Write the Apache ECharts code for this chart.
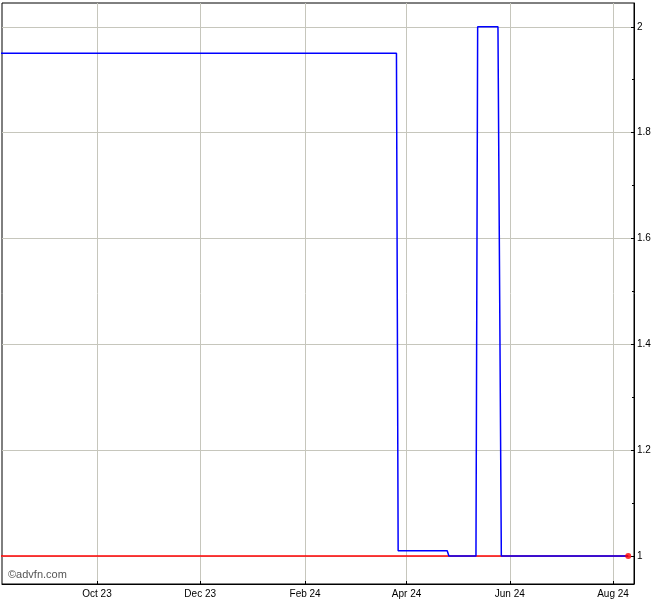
<!DOCTYPE html>
<html>
<head>
<meta charset="utf-8">
<script src="https://cdn.jsdelivr.net/npm/echarts@6/dist/echarts.min.js"></script>
<style>html,body{margin:0;padding:0;background:#fff}#c{width:670px;height:600px}</style>
</head>
<body>
<div id="c"></div>
<script>
// Price data (date, price)
const priceDates = ['2023-08-01','2024-03-26','2024-03-27','2024-04-25','2024-04-26','2024-05-12','2024-05-13','2024-05-25','2024-05-27','2024-08-10'];
const priceValues = [1.95, 1.95, 1.01, 1.01, 1.00, 1.00, 2.00, 2.00, 1.00, 1.00];
// X axis tick labels
const xTickDates = ['2023-10-01','2023-12-01','2024-02-01','2024-04-01','2024-06-01','2024-08-01'];
const xTickLabels = ['Oct 23','Dec 23','Feb 24','Apr 24','Jun 24','Aug 24'];
// Y axis ticks
const yMajorTicks = [1, 1.2, 1.4, 1.6, 1.8, 2];
const yMinorTicks = [1.1, 1.3, 1.5, 1.7, 1.9];

function parseD(s) { const p = s.split('-').map(Number); return new Date(p[0], p[1]-1, p[2]).getTime(); }
const xTickTs = xTickDates.map(parseD);
const priceData = priceDates.map((d, i) => [parseD(d), priceValues[i]]);
const last = priceData[priceData.length - 1];
const lastLine = [[priceData[0][0], last[1]], [last[0], last[1]]];

const font = 'Liberation Sans, Arial, sans-serif';
const gridColor = '#c6c6bc';

const chart = echarts.init(document.getElementById('c'), null, {renderer: 'canvas'});
chart.setOption({
  animation: false,
  backgroundColor: '#fff',
  grid: {left: 2, top: 3, right: 36, bottom: 16, show: true, borderColor: '#000', borderWidth: 1, backgroundColor: '#fff'},
  graphic: [{type: 'text', left: 8, top: 569, style: {text: '©advfn.com', fill: '#555', font: '11px ' + font}}],
  xAxis: {
    type: 'value',
    min: new Date(2023, 7, 5, 20).getTime(),
    max: new Date(2024, 7, 13, 10).getTime(),
    axisLine: {show: true, lineStyle: {color: '#000', width: 1}},
    axisTick: {show: true, inside: true, length: 3, lineStyle: {color: '#000'}, customValues: xTickTs},
    axisLabel: {
      customValues: xTickTs, margin: 5, color: '#000', fontSize: 10, fontFamily: font,
      formatter: v => { const i = xTickTs.indexOf(v); return i >= 0 ? xTickLabels[i] : ''; }
    },
    splitLine: {show: true, lineStyle: {color: gridColor, width: 1}}
  },
  yAxis: [{
    type: 'value', position: 'right', min: 0.947, max: 2.045,
    axisLine: {show: true, lineStyle: {color: '#000', width: 1}},
    axisTick: {show: true, inside: true, length: 3, lineStyle: {color: '#000'}, customValues: yMajorTicks},
    axisLabel: {customValues: yMajorTicks, margin: 3, color: '#000', fontSize: 10, fontFamily: font,
      formatter: v => String(Math.round(v * 10) / 10)},
    splitLine: {show: true, lineStyle: {color: gridColor, width: 1}}
  }, {
    type: 'value', position: 'right', min: 0.947, max: 2.045,
    axisLine: {show: false},
    axisTick: {show: true, inside: true, length: 2, lineStyle: {color: '#000'}, customValues: yMinorTicks},
    axisLabel: {show: false},
    splitLine: {show: false}
  }],
  series: [{
    type: 'line', data: lastLine, showSymbol: false, symbol: 'none',
    lineStyle: {color: '#ff0000', width: 1.5}, z: 2
  }, {
    type: 'line', data: priceData, showSymbol: false, symbol: 'none',
    lineStyle: {color: '#0000ff', width: 1.5}, z: 3
  }, {
    type: 'scatter', data: [last], symbol: 'circle', symbolSize: 6,
    itemStyle: {color: '#ff0000'}, z: 4
  }]
});
</script>
</body>
</html>
